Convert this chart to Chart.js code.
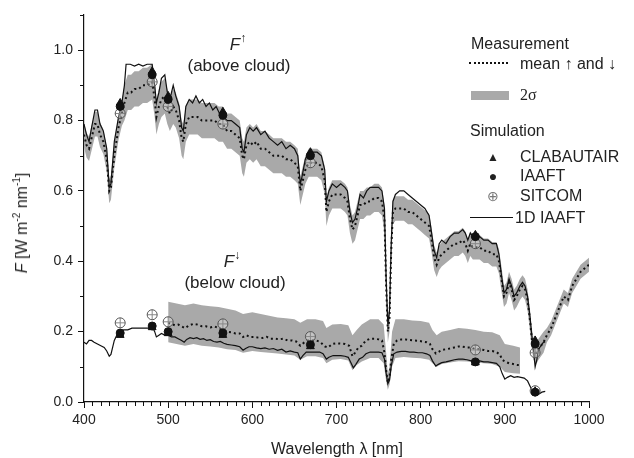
<!DOCTYPE html>
<html>
<head>
<meta charset="utf-8">
<script src="https://cdn.jsdelivr.net/npm/chart.js@4.4.1/dist/chart.umd.min.js"></script>
<style>
  html, body { margin: 0; padding: 0; background: #fff; }
  #wrap { position: relative; width: 634px; height: 458px; font-family: "Liberation Sans", Arial, sans-serif; color: #222; }
  #wrap canvas { position: absolute; left: 0; top: 0; }
  .lbl { position: absolute; font-size: 16px; line-height: 18px; white-space: nowrap; }
  .ctr { transform: translate(-50%, -50%); }
  .note { font-size: 17px; }
  .note sup { font-size: 12px; vertical-align: 8px; }
  .sym { position: absolute; transform: translate(-50%, -50%); line-height: 1; }
  sup { font-size: 10px; vertical-align: 7px; line-height: 0; }
</style>
</head>
<body>
<div id="wrap">
  <canvas id="fluxChart" width="634" height="458"></canvas>

  <!-- axis titles -->
  <div class="lbl ctr" style="left:22px; top:223px; transform: translate(-50%,-50%) rotate(-90deg);"><i>F</i> [W m<sup>-2</sup> nm<sup>-1</sup>]</div>
  <div class="lbl ctr" style="left:337px; top:449px;">Wavelength λ [nm]</div>

  <!-- curve annotations -->
  <div class="lbl ctr note" style="left:238px; top:45px;"><i>F</i><sup>↑</sup></div>
  <div class="lbl ctr note" style="left:239px; top:66px;">(above cloud)</div>
  <div class="lbl ctr note" style="left:232px; top:262px;"><i>F</i><sup>↓</sup></div>
  <div class="lbl ctr note" style="left:235px; top:283px;">(below cloud)</div>

  <!-- legend -->
  <div class="lbl" style="left:471px; top:35px;">Measurement</div>
  <div style="position:absolute; left:469px; top:62px; width:39px; border-top:2px dotted #111;"></div>
  <div class="lbl" style="left:520px; top:55px;">mean ↑ and ↓</div>
  <div style="position:absolute; left:471px; top:91px; width:38px; height:9px; background:#a9a9a9;"></div>
  <div class="lbl" style="left:520px; top:86px; font-family:'Liberation Serif', serif;">2σ</div>

  <div class="lbl" style="left:470px; top:122px;">Simulation</div>
  <div class="sym" style="left:493px; top:157px; font-size:12px;">▲</div>
  <div class="lbl" style="left:520px; top:148px;">CLABAUTAIR</div>
  <div class="sym" style="left:493px; top:176px; font-size:14px;">●</div>
  <div class="lbl" style="left:520px; top:167px;">IAAFT</div>
  <div class="sym" style="left:493px; top:196px; font-size:14px; color:#777;">⊕</div>
  <div class="lbl" style="left:520px; top:187px;">SITCOM</div>
  <div style="position:absolute; left:470px; top:217px; width:43px; height:1px; background:#111;"></div>
  <div class="lbl" style="left:515px; top:209px;">1D IAAFT</div>
</div>

<script>
// ========= data =========
// axis ticks
const xTicks = [400, 500, 600, 700, 800, 900, 1000];
const yTicks = [0, 0.2, 0.4, 0.6, 0.8, 1.0];

// upward flux above cloud: measured mean and 2-sigma envelope
const upLam = [400,403,406,409,413,416,419,423,427,430,432,436,441,445,448,452,456,460,465,470,475,481,484,486,489,492,496,499,502,506,509,513,516,518,521,525,530,535,540,545,550,555,560,565,570,575,580,585,588,590,593,597,601,605,610,615,620,625,630,635,640,645,650,654,657,659,663,667,672,677,682,686,688,691,695,700,705,710,713,716,719,722,725,728,732,736,740,745,750,754,757,759,761,763,765,767,770,775,780,785,790,795,800,805,810,813,816,819,822,825,830,835,840,845,850,853,856,859,862,865,870,875,880,885,890,893,896,899,902,905,908,911,914,918,921,924,927,930,932,934,936,938,940,943,946,950,955,960,965,970,975,980,985,990,995,1000];
const upMean = [0.76,0.73,0.72,0.75,0.79,0.79,0.76,0.74,0.69,0.60,0.61,0.70,0.78,0.82,0.85,0.88,0.88,0.89,0.89,0.90,0.90,0.91,0.86,0.81,0.84,0.86,0.87,0.84,0.82,0.84,0.83,0.80,0.75,0.74,0.79,0.81,0.81,0.81,0.80,0.80,0.80,0.80,0.79,0.79,0.77,0.77,0.76,0.75,0.70,0.69,0.73,0.74,0.73,0.74,0.72,0.72,0.71,0.70,0.70,0.70,0.69,0.69,0.68,0.67,0.60,0.62,0.66,0.68,0.68,0.68,0.67,0.63,0.54,0.57,0.59,0.59,0.59,0.58,0.57,0.52,0.49,0.50,0.53,0.56,0.56,0.57,0.57,0.58,0.58,0.57,0.52,0.33,0.20,0.24,0.43,0.54,0.55,0.55,0.55,0.54,0.54,0.53,0.52,0.51,0.50,0.46,0.41,0.39,0.41,0.42,0.43,0.44,0.45,0.45,0.46,0.45,0.43,0.45,0.44,0.44,0.44,0.43,0.43,0.42,0.42,0.40,0.35,0.30,0.31,0.34,0.32,0.29,0.30,0.32,0.33,0.32,0.29,0.23,0.18,0.15,0.14,0.14,0.15,0.16,0.17,0.19,0.21,0.24,0.27,0.30,0.29,0.33,0.35,0.37,0.38,0.39];
const upLo = [0.725,0.695,0.685,0.715,0.755,0.755,0.725,0.705,0.655,0.565,0.575,0.665,0.745,0.785,0.80,0.83,0.83,0.84,0.84,0.85,0.85,0.86,0.81,0.76,0.79,0.81,0.82,0.79,0.77,0.79,0.78,0.75,0.70,0.69,0.74,0.76,0.76,0.76,0.75,0.75,0.75,0.75,0.74,0.74,0.72,0.72,0.71,0.70,0.65,0.64,0.68,0.69,0.68,0.69,0.67,0.67,0.66,0.65,0.65,0.65,0.64,0.64,0.63,0.62,0.56,0.58,0.62,0.64,0.64,0.64,0.63,0.59,0.50,0.53,0.55,0.55,0.55,0.54,0.53,0.48,0.45,0.46,0.49,0.52,0.52,0.53,0.53,0.54,0.54,0.53,0.48,0.29,0.17,0.20,0.39,0.505,0.515,0.515,0.515,0.505,0.505,0.495,0.485,0.475,0.465,0.425,0.375,0.355,0.375,0.385,0.395,0.405,0.415,0.415,0.425,0.415,0.395,0.415,0.405,0.405,0.405,0.395,0.395,0.385,0.385,0.365,0.315,0.27,0.28,0.31,0.29,0.26,0.27,0.29,0.30,0.29,0.26,0.20,0.15,0.12,0.11,0.11,0.12,0.13,0.14,0.17,0.19,0.22,0.25,0.28,0.27,0.31,0.33,0.35,0.36,0.37];
const upHi = [0.795,0.765,0.755,0.785,0.825,0.825,0.795,0.775,0.725,0.635,0.645,0.735,0.815,0.855,0.90,0.93,0.93,0.94,0.94,0.95,0.95,0.96,0.91,0.86,0.89,0.91,0.92,0.89,0.87,0.89,0.88,0.85,0.80,0.79,0.84,0.86,0.86,0.86,0.85,0.85,0.85,0.85,0.84,0.84,0.82,0.82,0.81,0.80,0.75,0.74,0.78,0.79,0.78,0.79,0.77,0.77,0.76,0.75,0.75,0.75,0.74,0.74,0.73,0.72,0.64,0.66,0.70,0.72,0.72,0.72,0.71,0.67,0.58,0.61,0.63,0.63,0.63,0.62,0.61,0.56,0.53,0.54,0.57,0.60,0.60,0.61,0.61,0.62,0.62,0.61,0.56,0.37,0.23,0.28,0.47,0.575,0.585,0.585,0.585,0.575,0.575,0.565,0.555,0.545,0.535,0.495,0.445,0.425,0.445,0.455,0.465,0.475,0.485,0.485,0.495,0.485,0.465,0.485,0.475,0.475,0.475,0.465,0.465,0.455,0.455,0.435,0.385,0.33,0.34,0.37,0.35,0.32,0.33,0.35,0.36,0.35,0.32,0.26,0.21,0.18,0.17,0.17,0.18,0.19,0.20,0.21,0.23,0.26,0.29,0.32,0.31,0.35,0.37,0.39,0.40,0.41];

// upward flux, 1D IAAFT simulation
const upSimLam = [400,403,406,409,413,416,419,423,427,430,432,436,441,445,448,450,455,460,465,470,475,481,484,486,489,492,496,499,502,506,509,513,516,518,521,525,529,533,537,541,545,549,553,557,561,565,570,575,580,585,588,590,593,597,601,605,610,615,620,625,630,635,640,645,650,654,657,659,663,667,672,677,682,686,688,691,695,700,705,710,713,716,719,722,725,728,732,736,740,745,750,754,757,759,761,763,765,767,770,775,780,785,790,795,800,805,810,813,816,819,822,825,830,835,840,845,850,853,856,859,862,865,870,875,880,885,890,893,896,899,902,905,908,911,914,918,921,924,927,930,932,934,936,938,940,943,946,948];
const upSim = [0.79,0.76,0.74,0.78,0.83,0.83,0.79,0.77,0.72,0.61,0.62,0.74,0.81,0.85,0.90,0.96,0.96,0.955,0.96,0.955,0.96,0.96,0.90,0.85,0.88,0.92,0.93,0.88,0.86,0.90,0.87,0.84,0.78,0.77,0.84,0.86,0.85,0.87,0.85,0.86,0.84,0.85,0.83,0.84,0.82,0.81,0.80,0.80,0.79,0.78,0.72,0.71,0.76,0.78,0.77,0.78,0.76,0.77,0.75,0.74,0.73,0.74,0.72,0.73,0.72,0.70,0.62,0.64,0.69,0.71,0.71,0.71,0.70,0.66,0.57,0.60,0.62,0.61,0.62,0.61,0.60,0.54,0.51,0.52,0.55,0.59,0.58,0.60,0.61,0.61,0.61,0.60,0.55,0.35,0.22,0.26,0.45,0.57,0.59,0.60,0.60,0.59,0.58,0.57,0.56,0.55,0.53,0.48,0.43,0.41,0.45,0.46,0.45,0.47,0.48,0.48,0.49,0.48,0.46,0.48,0.47,0.47,0.47,0.46,0.46,0.45,0.45,0.42,0.36,0.31,0.32,0.35,0.33,0.30,0.31,0.33,0.34,0.33,0.30,0.24,0.19,0.15,0.10,0.12,0.15,0.16,0.17,0.17];

// downward flux below cloud: measured mean
const dnLam = [500,504,508,512,516,520,525,530,535,540,545,550,555,560,565,570,575,580,585,589,593,597,602,607,612,617,622,627,632,637,642,647,652,657,661,666,671,676,681,686,690,695,700,705,710,715,719,722,726,730,735,740,745,750,754,757,759,761,763,765,768,772,777,782,787,792,797,802,807,811,814,818,821,825,830,835,840,845,850,855,860,865,870,875,880,885,890,894,897,900,905,910,915,918];
const dnMean = [0.225,0.222,0.218,0.22,0.215,0.21,0.218,0.222,0.22,0.215,0.215,0.212,0.215,0.21,0.205,0.20,0.198,0.195,0.195,0.185,0.19,0.185,0.185,0.183,0.182,0.185,0.18,0.18,0.178,0.18,0.175,0.175,0.172,0.16,0.168,0.175,0.175,0.175,0.17,0.158,0.155,0.165,0.167,0.166,0.165,0.16,0.13,0.14,0.155,0.16,0.175,0.18,0.18,0.178,0.175,0.14,0.09,0.055,0.07,0.12,0.165,0.175,0.178,0.178,0.176,0.175,0.174,0.172,0.17,0.165,0.15,0.138,0.142,0.148,0.15,0.152,0.155,0.158,0.157,0.155,0.155,0.15,0.15,0.148,0.145,0.145,0.142,0.135,0.12,0.115,0.11,0.108,0.105,0.105];

// downward 2-sigma envelope
const dnBandLam = [500,510,520,530,540,550,560,570,580,589,600,610,620,630,640,650,657,665,675,684,688,695,705,714,719,724,730,740,750,756,759,761,763,766,770,780,790,800,810,814,819,825,835,845,855,865,875,885,894,900,910,918];
const dnLo = [0.17,0.165,0.16,0.165,0.16,0.158,0.155,0.15,0.148,0.14,0.145,0.142,0.14,0.138,0.135,0.132,0.12,0.13,0.13,0.125,0.11,0.12,0.122,0.118,0.09,0.105,0.115,0.125,0.125,0.11,0.06,0.035,0.05,0.10,0.125,0.128,0.126,0.124,0.12,0.11,0.10,0.108,0.112,0.116,0.115,0.112,0.11,0.108,0.10,0.085,0.082,0.08];
const dnHi = [0.285,0.28,0.275,0.28,0.275,0.272,0.27,0.265,0.26,0.25,0.255,0.25,0.245,0.24,0.238,0.235,0.225,0.235,0.235,0.23,0.21,0.22,0.222,0.218,0.19,0.205,0.22,0.235,0.235,0.22,0.14,0.08,0.10,0.20,0.235,0.235,0.232,0.23,0.225,0.205,0.19,0.20,0.205,0.21,0.208,0.205,0.20,0.198,0.19,0.165,0.16,0.155];

// downward flux, 1D IAAFT simulation
const dnSimLam = [400,403,406,409,412,416,420,424,427,430,432,436,440,443,447,452,457,462,467,472,477,482,484,486,489,492,496,500,504,508,512,516,519,522,526,530,534,538,542,546,550,554,558,562,566,570,575,580,585,589,592,596,600,605,610,615,620,625,630,635,640,645,650,654,657,660,664,668,672,676,680,684,688,691,696,700,705,710,714,717,720,723,727,731,735,740,745,750,754,757,759,761,763,765,768,772,777,782,787,792,797,802,807,811,814,818,821,825,830,835,840,845,850,855,860,865,870,875,880,885,890,894,897,900,903,907,911,915,919,923,927,930,933,936,940,944,948];
const dnSim = [0.17,0.165,0.175,0.175,0.17,0.165,0.16,0.155,0.145,0.13,0.135,0.175,0.195,0.20,0.205,0.205,0.21,0.21,0.21,0.21,0.21,0.21,0.20,0.185,0.19,0.195,0.19,0.19,0.185,0.185,0.18,0.175,0.17,0.178,0.183,0.18,0.183,0.178,0.18,0.175,0.177,0.172,0.17,0.172,0.167,0.164,0.162,0.16,0.157,0.147,0.152,0.157,0.157,0.154,0.152,0.154,0.15,0.152,0.147,0.15,0.142,0.145,0.142,0.14,0.122,0.132,0.142,0.142,0.142,0.142,0.142,0.137,0.122,0.127,0.132,0.132,0.132,0.13,0.127,0.112,0.097,0.107,0.122,0.127,0.137,0.142,0.142,0.142,0.14,0.122,0.082,0.052,0.062,0.102,0.137,0.142,0.144,0.144,0.142,0.142,0.14,0.14,0.137,0.132,0.117,0.102,0.107,0.112,0.114,0.117,0.12,0.122,0.122,0.12,0.117,0.117,0.117,0.114,0.114,0.112,0.11,0.10,0.08,0.065,0.07,0.075,0.07,0.072,0.07,0.068,0.06,0.045,0.03,0.025,0.022,0.028,0.03];

// 3D simulation results at the measurement wavelengths
const markLam  = [443, 481, 500, 565, 669, 865, 936];
const upClab   = [0.85, 0.94, 0.87, 0.825, 0.71, 0.475, 0.175];
const upIaaft  = [0.84, 0.93, 0.86, 0.815, 0.70, 0.47, 0.165];
const upSitcom = [0.82, 0.91, 0.84, 0.79, 0.68, 0.45, 0.14];
const dnClab   = [0.19, 0.212, 0.195, 0.19, 0.158, 0.112, 0.03];
const dnIaaft  = [0.196, 0.216, 0.20, 0.196, 0.163, 0.114, 0.028];
const dnSitcom = [0.225, 0.248, 0.228, 0.222, 0.186, 0.148, 0.032];

// ========= helpers =========
const pts = (xs, ys) => xs.map((x, i) => ({ x, y: ys[i] }));
const GRAY = '#a9a9a9';
const INK = '#111';
const FONT = '"Liberation Sans", Arial, sans-serif';

// lower `order` = drawn later (on top)
function band(xs, ys, fill) {
  return { data: pts(xs, ys), borderColor: 'rgba(0,0,0,0)', borderWidth: 1, pointRadius: 0,
           fill, backgroundColor: GRAY, tension: 0, order: 10 };
}
function dotted(xs, ys) {
  return { data: pts(xs, ys), borderColor: INK, borderWidth: 2, borderDash: [2, 3],
           pointRadius: 0, fill: false, tension: 0, order: 6 };
}
function solid(xs, ys) {
  return { data: pts(xs, ys), borderColor: INK, borderWidth: 1.2, pointRadius: 0, fill: false,
           tension: 0, order: 5 };
}
function marks(ys, style, radius, fillCol, edge, order) {
  return { data: pts(markLam, ys), showLine: false, pointStyle: style, pointRadius: radius,
           pointBackgroundColor: fillCol, pointBorderColor: edge, pointBorderWidth: 1, order };
}

// small outward ticks between labelled ones
const minorTicks = {
  id: 'minorTicks',
  afterDraw(chart) {
    const { ctx, scales: { x, y } } = chart;
    ctx.save();
    ctx.strokeStyle = INK;
    ctx.lineWidth = 1;
    ctx.beginPath();
    for (let v = 410; v < 1000; v += 10) {
      if (v % 100 === 0) continue;
      const px = Math.round(x.getPixelForValue(v)) + 0.5;
      ctx.moveTo(px, y.bottom);
      ctx.lineTo(px, y.bottom + 4);
    }
    for (let k = 1; k <= 11; k += 2) {
      const py = Math.round(y.getPixelForValue(k / 10)) + 0.5;
      ctx.moveTo(x.left, py);
      ctx.lineTo(x.left - 4, py);
    }
    ctx.stroke();
    ctx.restore();
  }
};

// ========= chart =========
const ctx = document.getElementById('fluxChart').getContext('2d');
new Chart(ctx, {
  type: 'line',
  data: {
    datasets: [
      band(upLam, upLo, false),
      band(upLam, upHi, '-1'),
      band(dnBandLam, dnLo, false),
      band(dnBandLam, dnHi, '-1'),
      dotted(upLam, upMean),
      dotted(dnLam, dnMean),
      solid(upSimLam, upSim),
      solid(dnSimLam, dnSim),
      marks(upSitcom, 'circle', 5, 'rgba(255,255,255,0.3)', '#555', 4),
      marks(upSitcom, 'cross', 5, '#555', '#555', 4),
      marks(dnSitcom, 'circle', 5, 'rgba(255,255,255,0.3)', '#555', 4),
      marks(dnSitcom, 'cross', 5, '#555', '#555', 4),
      marks(upClab, 'triangle', 4.5, INK, INK, 3),
      marks(dnClab, 'triangle', 4.5, INK, INK, 3),
      marks(upIaaft, 'circle', 4, INK, INK, 2),
      marks(dnIaaft, 'circle', 4, INK, INK, 2)
    ]
  },
  options: {
    responsive: false,
    animation: false,
    devicePixelRatio: 1,
    layout: { padding: { left: 0, right: 45, top: 15, bottom: 0 } },
    plugins: { legend: { display: false }, tooltip: { enabled: false } },
    scales: {
      x: {
        type: 'linear', min: 400, max: 1000,
        afterBuildTicks: s => { s.ticks = xTicks.map(v => ({ value: v })); },
        afterFit: s => { s.height = 56; },
        grid: { drawOnChartArea: false, drawTicks: true, tickLength: 6, color: INK },
        border: { display: true, color: INK, width: 1.2 },
        ticks: { padding: 4, color: '#222', font: { family: FONT, size: 14 }, maxRotation: 0,
                 callback: v => String(v) }
      },
      y: {
        type: 'linear', min: 0, max: 1.1,
        afterBuildTicks: s => { s.ticks = yTicks.map(v => ({ value: v })); },
        afterFit: s => { s.width = 84; },
        grid: { drawOnChartArea: false, drawTicks: true, tickLength: 6, color: INK },
        border: { display: true, color: INK, width: 1.2 },
        ticks: { padding: 5, color: '#222', font: { family: FONT, size: 14 },
                 callback: v => v.toFixed(1) }
      }
    }
  },
  plugins: [minorTicks]
});
</script>
</body>
</html>
